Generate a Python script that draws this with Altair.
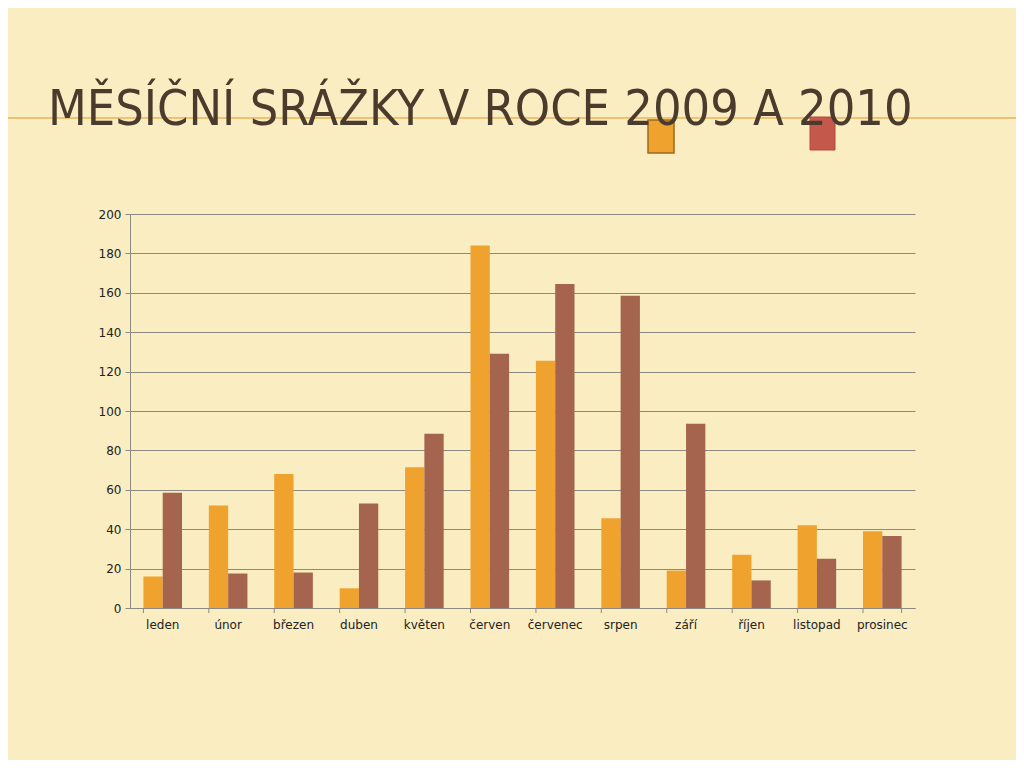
import altair as alt
import pandas as pd

months = ["leden", "únor", "březen", "duben", "květen", "červen",
          "červenec", "srpen", "září", "říjen", "listopad", "prosinec"]
rain_2009 = [16, 52, 68, 10, 71.5, 184, 125.5, 45.5, 19, 27, 42, 39]
rain_2010 = [58.5, 17.5, 18, 53, 88.5, 129, 164.5, 158.5, 93.5, 14, 25, 36.5]
years = ["2009", "2010"]
title_text = "MĚSÍČNÍ SRÁŽKY V ROCE 2009 A 2010"
y_ticks = list(range(0, 201, 20))

rows = []
for i, m in enumerate(months):
    rows.append({"month": m, "year": "2009", "value": rain_2009[i]})
    rows.append({"month": m, "year": "2010", "value": rain_2010[i]})
df = pd.DataFrame(rows)

W, H = 785, 394
PAD = {"left": 122, "top": 206, "right": 101, "bottom": 152}

xscale = alt.Scale(domain=months, paddingInner=0.41, paddingOuter=0.205)
grid_color = "#8c8a80"

bars = alt.Chart(df).mark_bar().encode(
    x=alt.X("month:N", sort=months, scale=xscale,
            axis=alt.Axis(title=None, labelAngle=0, ticks=False, domain=True,
                          domainColor=grid_color, labelFont="DejaVu Sans",
                          labelFontSize=12, labelColor="#222222", labelPadding=11)),
    xOffset=alt.XOffset("year:N", scale=alt.Scale(domain=years, paddingInner=0, paddingOuter=0)),
    y=alt.Y("value:Q", scale=alt.Scale(domain=[0, 200], nice=False),
            axis=alt.Axis(title=None, values=y_ticks, grid=True, gridColor=grid_color,
                          gridWidth=1, domainColor=grid_color, tickColor=grid_color,
                          tickSize=5, labelFont="DejaVu Sans", labelFontSize=12,
                          labelColor="#222222", labelPadding=4)),
    color=alt.Color("year:N", scale=alt.Scale(domain=years, range=["#F0A22E", "#A5644E"]),
                    legend=None),
)

month_df = pd.DataFrame({"month": months})
xticks = alt.Chart(month_df).mark_rule(color=grid_color, strokeWidth=1).encode(
    x=alt.X("month:N", sort=months, scale=xscale, bandPosition=0),
    y=alt.value(H), y2=alt.value(H + 5),
)
last_tick = alt.Chart(pd.DataFrame({"month": [months[-1]]})).mark_rule(color=grid_color).encode(
    x=alt.X("month:N", sort=months, scale=xscale, bandPosition=1),
    y=alt.value(H), y2=alt.value(H + 5),
)

one = pd.DataFrame({"t": [title_text]})
hline = alt.Chart(one).mark_rule(color="#E9B458", strokeWidth=1.5).encode(
    x=alt.value(-122), x2=alt.value(886), y=alt.value(-96),
)
title = alt.Chart(one).mark_text(
    align="left", baseline="alphabetic", font="DejaVu Sans Condensed",
    fontSize=50, color="#4A3B2C",
).encode(text="t:N", x=alt.value(-82), y=alt.value(-89))

sq1 = alt.Chart(one).mark_rect(color="#F0A22E", stroke="#9A6A1E", strokeWidth=1.5).encode(
    x=alt.value(518), x2=alt.value(544), y=alt.value(-94), y2=alt.value(-61))
sq2 = alt.Chart(one).mark_rect(color="#C4584A", stroke="#B04A40", strokeWidth=1).encode(
    x=alt.value(680), x2=alt.value(705), y=alt.value(-97), y2=alt.value(-64))

chart = alt.layer(hline, sq1, sq2, title, bars, xticks, last_tick).properties(
    width=W, height=H,
    autosize=alt.AutoSizeParams(type="none"),
    padding=PAD,
    background="#FAEDC2",
).configure_view(stroke=None)

chart.save("out.html", embed_options={"renderer": "svg", "actions": False})
